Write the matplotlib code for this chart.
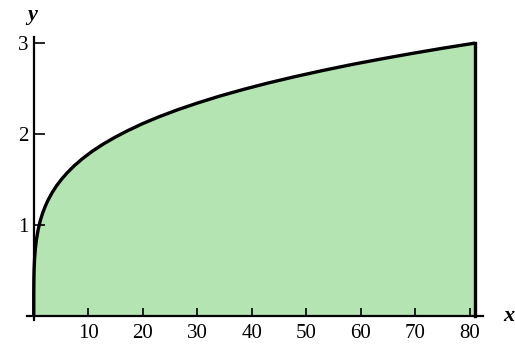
import matplotlib.pyplot as plt

# points on the curve y = x**(1/4), 0 <= x <= 81
xs = [0, 0.002, 0.01, 0.03, 0.07, 0.15, 0.3, 0.5, 0.8, 1.2, 1.6, 2.1, 2.7,
      3.4, 4.2, 5.1, 6.2, 7.5, 9, 10.7, 12.6, 14.8, 17.2, 20, 23, 26.5, 30,
      34, 38.5, 43, 48, 53, 58.5, 64, 69.5, 75, 81]
ys = [0, 0.212, 0.316, 0.416, 0.514, 0.622, 0.740, 0.841, 0.946, 1.047,
      1.125, 1.204, 1.282, 1.358, 1.432, 1.503, 1.578, 1.655, 1.732, 1.809,
      1.884, 1.961, 2.036, 2.115, 2.190, 2.269, 2.340, 2.415, 2.491, 2.561,
      2.632, 2.698, 2.766, 2.828, 2.887, 2.943, 3.0]
xticks = [10, 20, 30, 40, 50, 60, 70, 80]
yticks = [1, 2, 3]

plt.rcParams['font.family'] = ['Liberation Serif', 'DejaVu Serif']

fig = plt.figure(figsize=(5.15, 3.49), dpi=100)
ax = fig.add_axes([0.0528, 0.0817, 0.8855, 0.812])

ax.fill_between(xs, ys, 0, color='#b3e4b1', lw=0)
ax.plot(xs, ys, color='black', lw=2.4, solid_capstyle='butt',
        solid_joinstyle='round')
ax.plot([xs[-1], xs[-1]], [0, ys[-1]], color='black', lw=2.4)

ax.set_xlim(-1.2, 82.5)
ax.set_ylim(-0.05, 3.066)

for s in ['top', 'right']:
    ax.spines[s].set_visible(False)
for s in ['left', 'bottom']:
    ax.spines[s].set_position(('data', 0))
    ax.spines[s].set_linewidth(1.6)
    ax.spines[s].set_zorder(5)

ax.set_xticks(xticks)
ax.set_yticks(yticks)
ax.tick_params(axis='x', direction='in', length=6, width=1.2, pad=6,
               labelsize=15)
ax.tick_params(axis='y', direction='in', length=8, width=1.2, pad=4,
               labelsize=15)

ax.text(1.0 + 20 / 456, 0.05 / 3.116, 'x', transform=ax.transAxes,
        fontsize=16, fontstyle='italic', fontweight='bold',
        ha='left', va='center')
ax.text(0.0115, 1.0 + 22 / 283.5, 'y', transform=ax.transAxes,
        fontsize=16, fontstyle='italic', fontweight='bold',
        ha='center', va='center')

fig.savefig('out.png', dpi=100)
